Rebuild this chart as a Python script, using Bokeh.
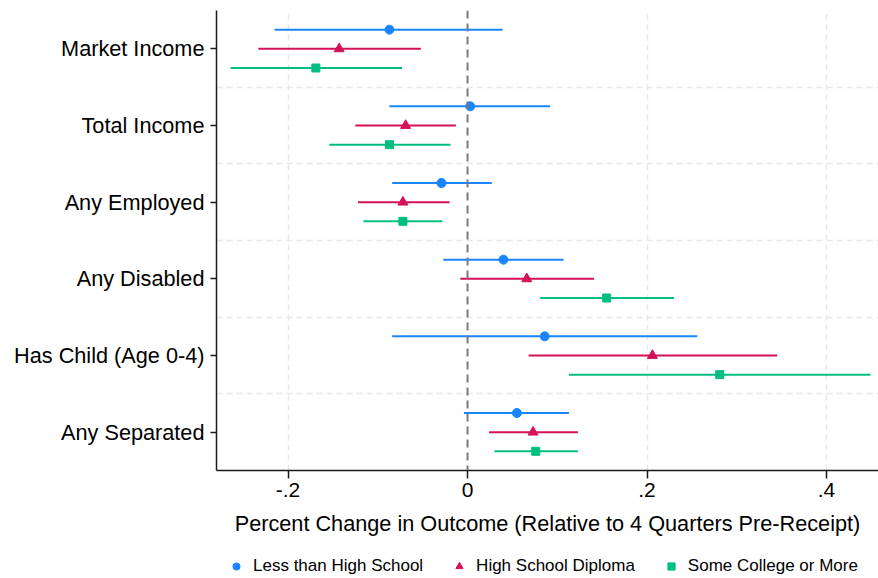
# coefficient plot: percent change in outcomes by education group

from bokeh.plotting import figure
from bokeh.layouts import column
from bokeh.models import (ColumnDataSource, FixedTicker, Span, Legend, LegendItem)
from bokeh.embed import file_html
from bokeh.resources import INLINE

# outcomes (top to bottom)
outcomes = ['Market Income', 'Total Income', 'Any Employed',
            'Any Disabled', 'Has Child (Age 0-4)', 'Any Separated']

# Less than High School
lths_est = [-0.087, 0.003, -0.029, 0.040, 0.086, 0.055]
lths_lo = [-0.215, -0.087, -0.084, -0.027, -0.084, -0.004]
lths_hi = [0.039, 0.092, 0.027, 0.107, 0.256, 0.113]

# High School Diploma
hs_est = [-0.143, -0.069, -0.072, 0.066, 0.206, 0.073]
hs_lo = [-0.233, -0.125, -0.122, -0.008, 0.068, 0.024]
hs_hi = [-0.052, -0.013, -0.020, 0.141, 0.345, 0.123]

# Some College or More
col_est = [-0.169, -0.087, -0.072, 0.155, 0.281, 0.076]
col_lo = [-0.264, -0.154, -0.116, 0.081, 0.113, 0.030]
col_hi = [-0.073, -0.019, -0.028, 0.230, 0.449, 0.123]

group_names = ['Less than High School', 'High School Diploma', 'Some College or More']
x_ticks = [-0.2, 0, 0.2, 0.4]
x_tick_labels = ['-.2', '0', '.2', '.4']

FONT = "Liberation Sans"

# category positions: first outcome on top
n = len(outcomes)
ypos = [n - i for i in range(n)]

p = figure(width=878, height=548, x_range=(-0.2797, 0.4579), y_range=(0.5, n + 0.5),
           output_backend="svg", toolbar_location=None,
           min_border_left=216, min_border_right=0, min_border_top=10, min_border_bottom=78)
p.outline_line_color = None
p.background_fill_color = "white"
p.border_fill_color = "white"

# grid
p.xgrid.ticker = FixedTicker(ticks=[-0.2, 0.2, 0.4])
p.xgrid.grid_line_color = "#e8e8e8"
p.xgrid.grid_line_dash = "6 4"
p.xgrid.grid_line_width = 1.5
p.ygrid.ticker = FixedTicker(ticks=[1.5, 2.5, 3.5, 4.5, 5.5])
p.ygrid.grid_line_color = "#e8e8e8"
p.ygrid.grid_line_dash = "6 4"
p.ygrid.grid_line_width = 1.5

# zero line
p.add_layout(Span(location=0, dimension='height', line_color="#7a7a7a",
                  line_dash="8 5", line_width=2))

groups = [
    (lths_est, lths_lo, lths_hi, 0.25, "#1A85FF", "circle", 9),
    (hs_est, hs_lo, hs_hi, 0.0, "#D41159", "triangle", 10),
    (col_est, col_lo, col_hi, -0.25, "#00BF7D", "square", 8),
]

# small strip under the chart that only holds the legend
# (column() lines its frame up with the chart frame above)
# its y range is far away from the data, so the points themselves are not drawn here
leg_fig = figure(width=878, height=30, x_range=(0, 1), y_range=(100, 101),
                 output_backend="svg", toolbar_location=None,
                 x_axis_location=None, y_axis_location=None,
                 min_border_left=216, min_border_right=0, min_border_top=0, min_border_bottom=0)
leg_fig.outline_line_color = None
leg_fig.grid.visible = False

items = []
for (est, lo, hi, off, color, marker, size), name in zip(groups, group_names):
    src = ColumnDataSource(dict(y=[v + off for v in ypos], est=est, lo=lo, hi=hi))
    p.segment(x0='lo', y0='y', x1='hi', y1='y', source=src, line_color=color, line_width=2)
    p.scatter(x='est', y='y', source=src, marker=marker, size=size,
              fill_color=color, line_color=color)
    # same marker in the legend strip, used only by the legend
    r = leg_fig.scatter(x='est', y='y', source=src, marker=marker, size=size,
                        fill_color=color, line_color=color)
    items.append(LegendItem(label=name, renderers=[r]))

# axes
p.xaxis.ticker = FixedTicker(ticks=x_ticks)
p.xaxis.major_label_overrides = dict(zip(x_ticks, x_tick_labels))
p.xaxis.axis_label = "Percent Change in Outcome (Relative to 4 Quarters Pre-Receipt)"
p.yaxis.ticker = FixedTicker(ticks=ypos)
p.yaxis.major_label_overrides = dict(zip(ypos, outcomes))

for ax in [p.xaxis[0], p.yaxis[0]]:
    ax.axis_line_color = "#1a1a1a"
    ax.axis_line_width = 1.5
    ax.major_tick_line_color = "#1a1a1a"
    ax.major_tick_line_width = 1.5
    ax.minor_tick_line_color = None
    ax.major_tick_in = 0
    ax.major_label_text_font = FONT
    ax.major_label_text_color = "black"
    ax.axis_label_text_font = FONT
    ax.axis_label_text_font_style = "normal"
    ax.axis_label_text_color = "black"

p.xaxis.major_tick_out = 8
p.xaxis.major_label_standoff = 4
p.xaxis.major_label_text_font_size = "21px"
p.xaxis.axis_label_text_font_size = "21.7px"
p.xaxis.axis_label_standoff = 11
p.yaxis.major_tick_out = 6
p.yaxis.major_label_standoff = 6
p.yaxis.major_label_text_font_size = "21.7px"

# location = left / bottom edge of the legend, from the strip's frame corner
legend = Legend(items=items, orientation="horizontal", location=(11, 2),
                glyph_width=18, glyph_height=18, label_standoff=8, spacing=27,
                padding=0, margin=0, border_line_color=None, background_fill_alpha=0,
                label_text_font=FONT, label_text_font_size="17px",
                label_text_color="black")
leg_fig.add_layout(legend)

page = column(p, leg_fig, spacing=0)
open("out.html", "w").write(file_html(page, INLINE))
